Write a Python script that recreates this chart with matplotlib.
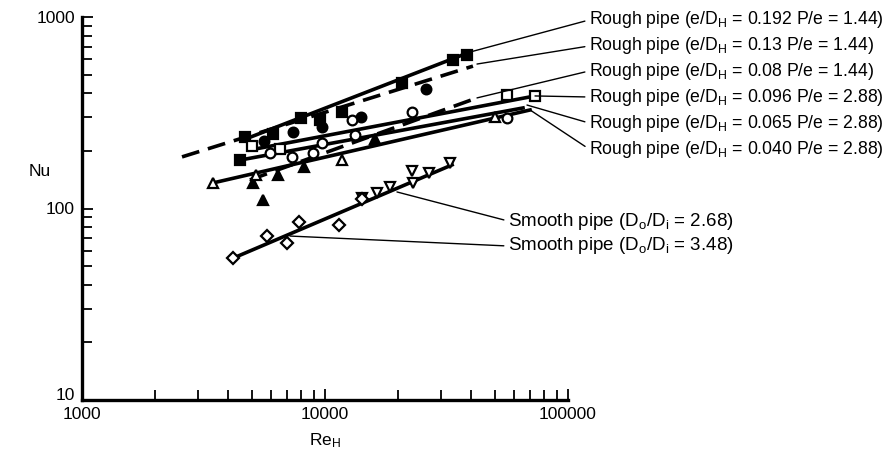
import matplotlib
matplotlib.use("Agg")
import matplotlib.pyplot as plt
from matplotlib.ticker import LogLocator, NullFormatter
from matplotlib.transforms import ScaledTranslation

plt.rcParams['font.family'] = ['Liberation Sans', 'DejaVu Sans']
plt.rcParams['mathtext.fontset'] = 'custom'
plt.rcParams['mathtext.rm'] = 'Liberation Sans'
plt.rcParams['mathtext.it'] = 'Liberation Sans'

# ---------------- data ----------------
# rough pipe, e/DH=0.192, P/e=1.44 (filled squares, solid fit)
re_r192 = [4470, 4700, 6100, 8000, 9500, 11700, 20700, 33600, 38400]
nu_r192 = [179, 236, 245, 297, 290, 319, 452, 596, 633]
fit_re_r192 = [4600, 39500]
fit_nu_r192 = [228, 656]

# rough pipe, e/DH=0.13, P/e=1.44 (filled circles, dashed fit)
re_r13 = [5600, 7400, 9700, 14000, 26000]
nu_r13 = [225, 250, 268, 300, 420]
fit_re_r13 = [2580, 40640]
fit_nu_r13 = [186, 554]

# rough pipe, e/DH=0.08, P/e=1.44 (filled triangles, dashed fit)
re_r08 = [5050, 5550, 6400, 8200, 16000]
nu_r08 = [136, 111, 150, 165, 230]
fit_re_r08 = [4910, 42220]
fit_nu_r08 = [141, 378]

# rough pipe, e/DH=0.096, P/e=2.88 (open squares, solid fit)
re_r096 = [5000, 6500, 56100, 73150]
nu_r096 = [212, 205, 391, 387]
fit_re_r096 = [4910, 73150]
fit_nu_r096 = [202, 387]

# rough pipe, e/DH=0.065, P/e=2.88 (open circles, solid fit)
re_r065 = [5940, 7300, 8920, 9720, 12910, 13290, 22800, 56100]
nu_r065 = [195, 186, 195, 220, 290, 242, 319, 297]
fit_re_r065 = [4470, 65300]
fit_nu_r065 = [179, 335]

# rough pipe, e/DH=0.040, P/e=2.88 (open triangles, solid fit)
re_r040 = [3460, 5200, 11750, 50000]
nu_r040 = [136, 150, 179, 300]
fit_re_r040 = [3460, 69800]
fit_nu_r040 = [136, 327]

# smooth pipe Do/Di=2.68 (open inverted triangles)
re_s268 = [14200, 16400, 18500, 22800, 23000, 26800, 32700]
nu_s268 = [114, 120, 129, 157, 136, 153, 173]
# smooth pipe Do/Di=3.48 (open diamonds)
re_s348 = [4180, 5770, 6980, 7820, 11400, 14200]
nu_s348 = [55, 72, 66, 85, 82, 112]
fit_re_smooth = [4180, 33340]
fit_nu_smooth = [55, 169]

labels_rough = [
    r"Rough pipe (e/$\mathregular{D_H}$ = 0.192 P/e = 1.44)",
    r"Rough pipe (e/$\mathregular{D_H}$ = 0.13 P/e = 1.44)",
    r"Rough pipe (e/$\mathregular{D_H}$ = 0.08 P/e = 1.44)",
    r"Rough pipe (e/$\mathregular{D_H}$ = 0.096 P/e = 2.88)",
    r"Rough pipe (e/$\mathregular{D_H}$ = 0.065 P/e = 2.88)",
    r"Rough pipe (e/$\mathregular{D_H}$ = 0.040 P/e = 2.88)",
]
labels_smooth = [
    r"Smooth pipe ($\mathregular{D_o/D_i}$ = 2.68)",
    r"Smooth pipe ($\mathregular{D_o/D_i}$ = 3.48)",
]
# leader-line anchor points (Re, Nu)
anchor_re_rough = [39500, 42220, 42220, 73150, 67800, 69800]
anchor_nu_rough = [656, 568, 378, 387, 347, 327]
anchor_re_smooth = [19780, 7180]
anchor_nu_smooth = [122, 71.8]

x_ticks = [1000, 10000, 100000]
y_ticks = [10, 100, 1000]

# ---------------- figure ----------------
W, H = 892, 453
fig = plt.figure(figsize=(W / 100, H / 100), dpi=100)
ax = fig.add_axes([82 / W, 1 - 400 / H, (568 - 82) / W, (400 - 17) / H])
ax.set_xscale('log')
ax.set_yscale('log')
ax.set_xlim(1000, 100000)
ax.set_ylim(10, 1000)

lw_fit = 2.6
dash = (0, (5, 2.5))
k = 'black'
ms = 7

def series(re, nu, marker, filled, size=ms):
    ax.plot(re, nu, linestyle='none', marker=marker, markersize=size,
            markerfacecolor=k if filled else 'white', markeredgecolor=k,
            markeredgewidth=1.6, zorder=3)

ax.plot(fit_re_r192, fit_nu_r192, color=k, lw=lw_fit, zorder=2)
ax.plot(fit_re_r13, fit_nu_r13, color=k, lw=lw_fit, linestyle=dash, zorder=2)
ax.plot(fit_re_r08, fit_nu_r08, color=k, lw=lw_fit, linestyle=dash, zorder=2)
ax.plot(fit_re_r096, fit_nu_r096, color=k, lw=lw_fit, zorder=2)
ax.plot(fit_re_r065, fit_nu_r065, color=k, lw=lw_fit, zorder=2)
ax.plot(fit_re_r040, fit_nu_r040, color=k, lw=lw_fit, zorder=2)
ax.plot(fit_re_smooth, fit_nu_smooth, color=k, lw=lw_fit, zorder=2)

series(re_r192, nu_r192, 's', True)
series(re_r13, nu_r13, 'o', True)
series(re_r08, nu_r08, '^', True)
series(re_r096, nu_r096, 's', False)
series(re_r065, nu_r065, 'o', False)
series(re_r040, nu_r040, '^', False)
series(re_s268, nu_s268, 'v', False)
series(re_s348, nu_s348, 'D', False, 6)

# labels with leader lines
rough_y_px = [20, 46, 71, 97, 123, 149]
for lab, ar, an, ypx in zip(labels_rough, anchor_re_rough, anchor_nu_rough, rough_y_px):
    ax.annotate(lab, xy=(ar, an), xycoords='data',
                xytext=(589 / W, 1 - ypx / H), textcoords='figure fraction',
                ha='left', va='center', fontsize=12.7, annotation_clip=False,
                arrowprops=dict(arrowstyle='-', lw=1.0, color=k,
                                relpos=(0, 0.5), shrinkA=1, shrinkB=0))
smooth_y_px = [221, 246]
for lab, ar, an, ypx in zip(labels_smooth, anchor_re_smooth, anchor_nu_smooth, smooth_y_px):
    ax.annotate(lab, xy=(ar, an), xycoords='data',
                xytext=(508 / W, 1 - ypx / H), textcoords='figure fraction',
                ha='left', va='center', fontsize=13.5, annotation_clip=False,
                arrowprops=dict(arrowstyle='-', lw=1.0, color=k,
                                relpos=(0, 0.5), shrinkA=1, shrinkB=0))

# axes styling
for s in ['top', 'right']:
    ax.spines[s].set_visible(False)
for s in ['left', 'bottom']:
    ax.spines[s].set_linewidth(2.4)
ax.set_xticks(x_ticks, [str(v) for v in x_ticks])
ax.set_yticks(y_ticks, [str(v) for v in y_ticks])
ax.xaxis.set_minor_locator(LogLocator(base=10, subs=range(2, 10)))
ax.yaxis.set_minor_locator(LogLocator(base=10, subs=range(2, 10)))
ax.xaxis.set_minor_formatter(NullFormatter())
ax.yaxis.set_minor_formatter(NullFormatter())
ax.tick_params(which='both', direction='in', width=1.3, labelsize=12.5)
ax.tick_params(which='major', length=8)
ax.tick_params(axis='x', which='major', pad=5)
ax.tick_params(axis='y', which='major', pad=5)
ax.tick_params(which='minor', length=7)

# nudge the bottom y label up a little so it does not touch the x label
lbl10 = ax.yaxis.get_major_ticks()[0].label1
lbl10.set_transform(lbl10.get_transform() + ScaledTranslation(0, 4 / 72, fig.dpi_scale_trans))

ax.set_xlabel(r"Re$_\mathregular{H}$", fontsize=12.5, labelpad=7)
fig.text(40 / W, 1 - 172 / H, "Nu", fontsize=12.5, ha='center', va='center')

fig.savefig("out.png", dpi=100)
